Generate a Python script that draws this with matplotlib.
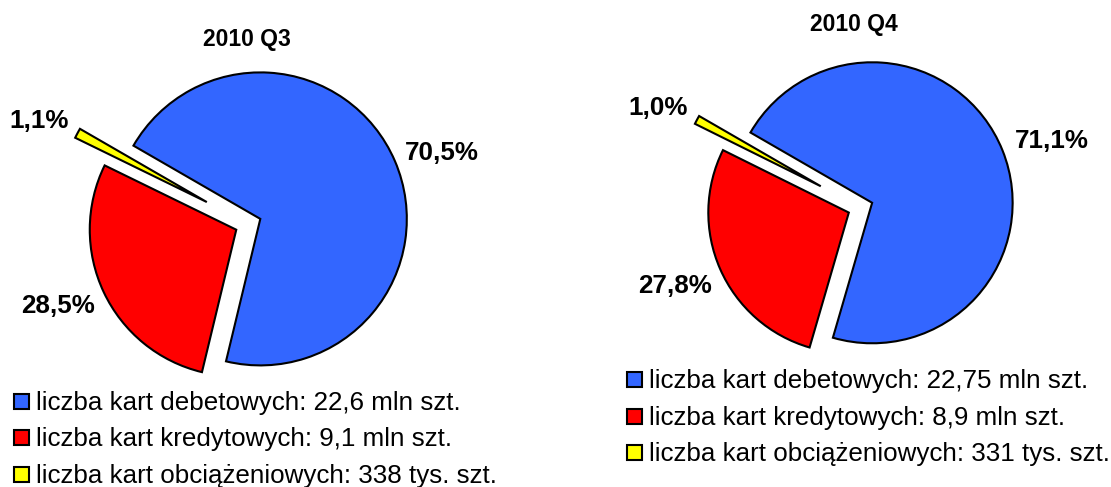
import matplotlib
matplotlib.use("Agg")
import matplotlib.pyplot as plt
from matplotlib.patches import Rectangle

# ---- data ----
titles = ["2010 Q3", "2010 Q4"]
categories = ["liczba kart debetowych", "liczba kart kredytowych", "liczba kart obciążeniowych"]
q3_shares = [70.5, 28.5, 1.1]
q4_shares = [71.1, 27.8, 1.0]
q3_amounts = ["22,6 mln szt.", "9,1 mln szt.", "338 tys. szt."]
q4_amounts = ["22,75 mln szt.", "8,9 mln szt.", "331 tys. szt."]

# ---- style ----
colors = ["#3366FF", "#FF0000", "#FFFF00"]
explode = [0.09, 0.09, 0.32]
W, H = 1111, 487
FONT = "Liberation Sans"

fig = plt.figure(figsize=(W / 100, H / 100), dpi=100)
fig.patch.set_facecolor("white")

overlay = fig.add_axes([0, 0, 1, 1])
overlay.set_xlim(0, W)
overlay.set_ylim(H, 0)
overlay.axis("off")

panels = [
    dict(shares=q3_shares, amounts=q3_amounts, title=titles[0],
         center=(248.2, 224.1), r=146.5,
         title_pos=(246.8, 46.4),
         label_pos=[(442, 160), (58, 313), (39.5, 128)],
         leg_x=12.7, leg_text_x=36, leg_base=[410, 446, 482.7]),
    dict(shares=q4_shares, amounts=q4_amounts, title=titles[1],
         center=(860.4, 207.5), r=140.5,
         title_pos=(854, 31.4),
         label_pos=[(1051.4, 148.3), (675, 293), (657.8, 115)],
         leg_x=626, leg_text_x=649.4, leg_base=[388, 424.7, 461.3]),
]

k = 1.6
for p in panels:
    cx, cy = p["center"]
    r = p["r"]
    size = 2 * k * r
    ax = fig.add_axes([(cx - size / 2) / W, (H - cy - size / 2) / H, size / W, size / H])
    ax.pie(p["shares"], colors=colors, explode=explode, startangle=150,
           counterclock=False,
           wedgeprops=dict(edgecolor="black", linewidth=1.5, joinstyle="miter"))
    ax.set_xlim(-k, k)
    ax.set_ylim(-k, k)
    ax.set_aspect("auto")
    ax.axis("off")

    overlay.text(p["title_pos"][0], p["title_pos"][1], p["title"], ha="center",
                 va="baseline", fontsize=16.5, fontweight="bold", family=FONT)
    for share, (lx, ly) in zip(p["shares"], p["label_pos"]):
        overlay.text(lx, ly, f"{share:.1f}%".replace(".", ","), ha="center",
                     va="baseline", fontsize=18.7, fontweight="bold", family=FONT)
    for cat, amt, col, base in zip(categories, p["amounts"], colors, p["leg_base"]):
        overlay.add_patch(Rectangle((p["leg_x"] + 1, base - 16), 15, 15,
                                    facecolor=col, edgecolor="black", linewidth=1.5))
        overlay.text(p["leg_text_x"], base, f"{cat}: {amt}", ha="left",
                     va="baseline", fontsize=18.7, family=FONT)

fig.savefig("out.png", dpi=100, facecolor="white")
